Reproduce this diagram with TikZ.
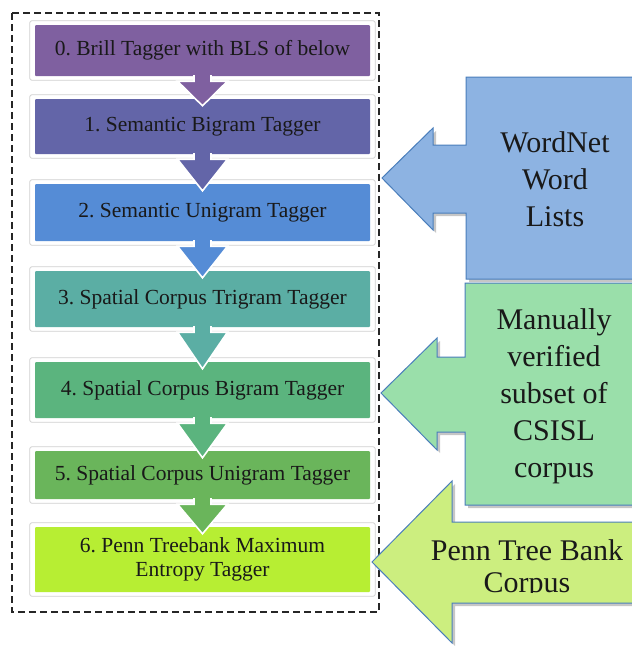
\documentclass[tikz,border=0pt]{standalone}
\usepackage{fontspec}
\setmainfont{Liberation Serif}
\usetikzlibrary{calc,backgrounds,shadows}

\definecolor{tagA}{HTML}{7F60A0}
\definecolor{tagB}{HTML}{6365A8}
\definecolor{tagC}{HTML}{558CD6}
\definecolor{tagD}{HTML}{5BAEA4}
\definecolor{tagE}{HTML}{5BB47E}
\definecolor{tagF}{HTML}{6AB55B}
\definecolor{tagG}{HTML}{B7EE33}
\definecolor{srcA}{HTML}{8DB3E2}
\definecolor{srcB}{HTML}{9ADFAA}
\definecolor{srcC}{HTML}{CCEE7F}
\definecolor{srcline}{HTML}{4A7EBB}

\frenchspacing
\begin{document}
\begin{tikzpicture}[x=1pt,y=-1pt,
  every node/.style={font=\fontsize{21.5}{24}\selectfont,text=black!90},
  tagbox/.style={minimum width=335pt,inner sep=0pt,align=center,rounded corners=1pt},
  glow/.style={fill=white,draw=black!18,line width=0.8pt,rounded corners=2pt},
  chev/.style={draw=white,line width=1.6pt,line join=miter},
  callout/.style={draw=srcline,line width=1pt,
    drop shadow={shadow xshift=3pt,shadow yshift=-3pt,opacity=0.45}},
  srctext/.style={font=\fontsize{30}{37}\selectfont,align=center}]
  \useasboundingbox (0,0) rectangle (632,646);

  % tagger chain
  \node[tagbox,fill=tagA,minimum height=51pt] (b0) at (202.5,50.5) {0. Brill Tagger with BLS of below};
  \node[tagbox,fill=tagB,minimum height=55pt] (b1) at (202.5,126.5) {1. Semantic Bigram Tagger};
  \node[tagbox,fill=tagC,minimum height=57pt] (b2) at (202.5,212.5) {2. Semantic Unigram Tagger};
  \node[tagbox,fill=tagD,minimum height=56pt] (b3) at (202.5,299) {3. Spatial Corpus Trigram Tagger};
  \node[tagbox,fill=tagE,minimum height=56pt] (b4) at (202.5,390) {4. Spatial Corpus Bigram Tagger};
  \node[tagbox,fill=tagF,minimum height=48pt] (b5) at (202.5,475) {5. Spatial Corpus Unigram Tagger};
  \node[tagbox,fill=tagG,minimum height=65pt] (b6) at (202.5,559.5) {6. Penn Treebank Maximum\\Entropy Tagger};
  \begin{scope}[on background layer]
    \foreach \i in {0,...,6}
      \draw[glow] ([shift={(-5,-4)}]b\i.north west) rectangle ([shift={(5,4)}]b\i.south east);
  \end{scope}
  \foreach \i/\j/\c in {0/1/tagA,1/2/tagB,2/3/tagC,3/4/tagD,4/5/tagE,5/6/tagF}
    \draw[chev,fill=\c] ($(b\i.south)+(-8.5,-1)$) -- ($(b\i.south)+(-8.5,5)$)
      -- ($(b\i.south)+(-25,5)$) -- ($(b\j.north)+(0,7)$) -- ($(b\i.south)+(25,5)$)
      -- ($(b\i.south)+(8.5,5)$) -- ($(b\i.south)+(8.5,-1)$);
  \draw[black!85,line width=1.3pt,dash pattern=on 7pt off 4pt] (12,13) rectangle (379,612);

  % sources
  \draw[callout,fill=srcA] (640,77) -- (466,77) -- (466,145) -- (433,145) -- (433,128)
    -- (382,178) -- (433,230) -- (433,213) -- (466,213) -- (466,279) -- (640,279);
  \node[srctext] (wn) at (555,179) {WordNet\\Word\\Lists};
  \draw[callout,fill=srcB] (640,283) -- (465,283) -- (465,357) -- (437,357) -- (437,338)
    -- (381,393) -- (437,450) -- (437,432) -- (465,432) -- (465,505) -- (640,505);
  \node[srctext] (mv) at (554,396) {Manually\\verified\\subset of\\CSISL\\corpus};
  \draw[callout,fill=srcC] (640,522) -- (452,522) -- (452,481) -- (372,562)
    -- (452,643) -- (452,603) -- (640,603);
  \begin{scope}
    \clip (380,500) rectangle (640,592);
    \node[srctext,font=\fontsize{30}{32}\selectfont] (ptb) at (527,569) {Penn Tree Bank\\Corpus};
  \end{scope}
\end{tikzpicture}
\end{document}
